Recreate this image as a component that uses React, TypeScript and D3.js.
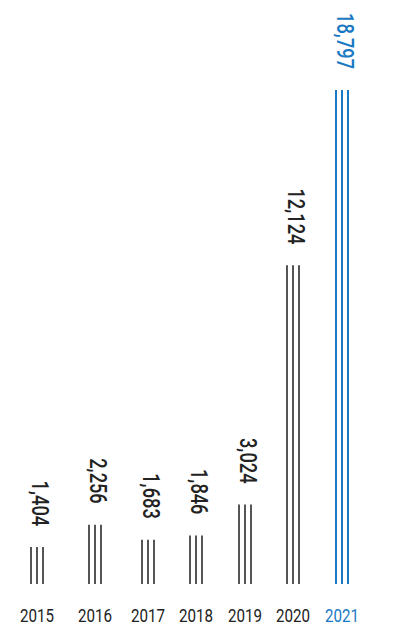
import React from "react";
import * as d3 from "d3";

const years = ["2015", "2016", "2017", "2018", "2019", "2020", "2021"];
const values = [1404, 2256, 1683, 1846, 3024, 12124, 18797];
const highlightYear = "2021";

const W = 401;
const H = 625;
const baseY = 584;
const topY = 90;
const columnX = [37, 95, 148, 196, 245, 293, 342];

const GRAY = "#555555";
const TEXT = "#222222";
const BLUE = "#1a79c3";
const FONT = "Roboto, 'Noto Sans', sans-serif";

export default function App() {
  const x = d3.scaleOrdinal<string, number>().domain(years).range(columnX);
  const y = d3.scaleLinear().domain([0, d3.max(values) as number]).range([baseY, topY]);
  const fmt = d3.format(",");
  const offsets = [-6, 0, 6];

  return (
    <svg
      width={W}
      height={H}
      style={{ position: "absolute", left: 0, top: 0, background: "#fff" }}
    >
      {years.map((yr, i) => {
        const cx = x(yr);
        const top = y(values[i]);
        const hl = yr === highlightYear;
        const lineColor = hl ? BLUE : GRAY;
        const textColor = hl ? BLUE : TEXT;
        return (
          <g key={yr}>
            {offsets.map((o) => (
              <line
                key={o}
                x1={cx + o}
                x2={cx + o}
                y1={top}
                y2={baseY}
                stroke={lineColor}
                strokeWidth={2}
              />
            ))}
            <text
              transform={`translate(${cx - 5},${top - 21}) rotate(90) scale(0.76,1)`}
              textAnchor="end"
              fontFamily={FONT}
              fontSize={24}
              fontWeight={500}
              fill={textColor}
            >
              {fmt(values[i])}
            </text>
            <text
              transform={`translate(${cx},621.5) scale(0.82,1)`}
              textAnchor="middle"
              fontFamily={FONT}
              fontSize={18.5}
              fill={textColor}
            >
              {yr}
            </text>
          </g>
        );
      })}
    </svg>
  );
}
